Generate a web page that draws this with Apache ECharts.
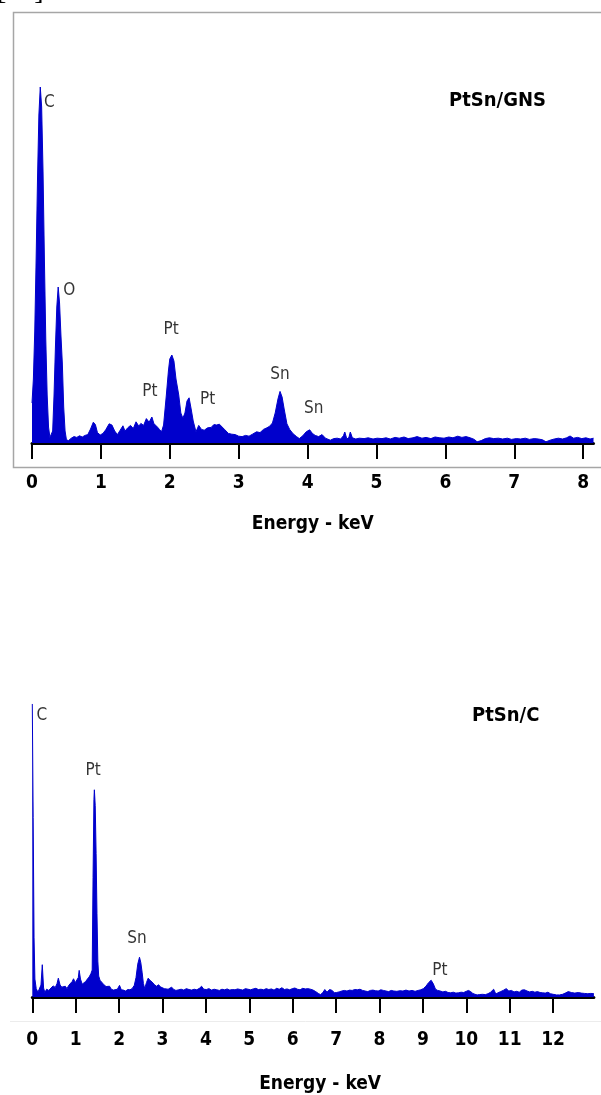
<!DOCTYPE html>
<html lang="en">

<head>
	<meta charset="UTF-8">
	<title>EDS spectra</title>
	<script src="https://cdn.jsdelivr.net/npm/echarts@6/dist/echarts.min.js"></script>
	<style>
		body { margin: 0; background: #fff; }
	</style>
</head>

<body>
	<div id="main" style="width: 601px;height: 1095px;"></div>
</body>

<script>
	// PtSn/GNS spectrum (energy keV, counts in arbitrary units 0-100)
	const gnsEnergy = [
		0.00, 0.02, 0.04, 0.06, 0.08, 0.10, 0.12, 0.14, 0.16, 0.18, 0.20, 0.22, 0.24, 0.26, 0.28,
		0.30, 0.32, 0.34, 0.36, 0.38, 0.40, 0.42, 0.44, 0.46, 0.48, 0.50, 0.53, 0.57, 0.61, 0.65,
		0.69, 0.73, 0.77, 0.81, 0.85, 0.89, 0.92, 0.95, 0.99, 1.03, 1.07, 1.12, 1.16, 1.20, 1.24,
		1.28, 1.32, 1.35, 1.39, 1.43, 1.47, 1.51, 1.55, 1.58, 1.62, 1.66, 1.70, 1.74, 1.77, 1.81,
		1.85, 1.88, 1.91, 1.95, 1.98, 2.00, 2.03, 2.06, 2.09, 2.13, 2.16, 2.19, 2.22, 2.25, 2.28,
		2.31, 2.34, 2.38, 2.42, 2.46, 2.50, 2.55, 2.60, 2.64, 2.68, 2.72, 2.76, 2.80, 2.85, 2.90,
		2.95, 3.00, 3.05, 3.10, 3.15, 3.20, 3.26, 3.31, 3.36, 3.41, 3.45, 3.49, 3.53, 3.57, 3.60,
		3.63, 3.66, 3.70, 3.74, 3.79, 3.84, 3.88, 3.93, 3.98, 4.03, 4.07, 4.11, 4.16, 4.21, 4.26,
		4.33, 4.38, 4.43, 4.48, 4.52, 4.54, 4.57, 4.60, 4.62, 4.65, 4.70, 4.75, 4.82, 4.88, 4.95,
		5.01, 5.08, 5.14, 5.20, 5.27, 5.33, 5.40, 5.46, 5.53, 5.59, 5.66, 5.72, 5.79, 5.85, 5.92,
		5.98, 6.05, 6.11, 6.18, 6.24, 6.30, 6.36, 6.42, 6.46, 6.52, 6.58, 6.64, 6.70, 6.77, 6.83,
		6.90, 6.96, 7.03, 7.09, 7.16, 7.22, 7.29, 7.35, 7.41, 7.46, 7.52, 7.58, 7.64, 7.70, 7.76,
		7.81, 7.86, 7.92, 7.98, 8.04, 8.10, 8.15
	]
	const gnsCounts = [
		10, 16, 28, 46, 66, 82, 89, 84, 68, 46, 26, 12, 4, 1.4, 1.0,
		3, 12, 24, 34, 39, 35, 27, 20, 9, 3, 0.8, 0.6, 1.2, 1.6, 1.4,
		1.8, 1.5, 1.9, 2.1, 3.5, 5.2, 4.6, 2.6, 2.0, 2.4, 3.3, 4.8, 4.5, 3.0, 2.1,
		3.2, 4.3, 3.0, 3.8, 4.4, 3.6, 5.3, 4.2, 4.9, 4.4, 6.1, 5.2, 6.5, 4.8, 4.2,
		3.4, 2.8, 4.5, 12, 18, 21, 22, 20.5, 16, 12, 7.5, 6.2, 7.5, 10.5, 11.3,
		8.5, 5.5, 2.8, 4.4, 3.4, 3.2, 3.8, 3.9, 4.6, 4.5, 4.7, 4.0, 3.3, 2.4, 2.2,
		2.1, 1.7, 1.6, 1.9, 1.7, 2.2, 2.8, 2.6, 3.4, 3.8, 4.2, 5.0, 7.5, 11, 12.9,
		11.5, 8.5, 4.8, 3.4, 2.3, 1.6, 1.1, 1.8, 2.8, 3.3, 2.4, 1.9, 1.6, 2.1, 1.2,
		0.7, 1.1, 1.2, 1.0, 1.8, 2.75, 1.0, 1.4, 2.75, 1.3, 1.0, 1.2, 1.1, 1.3, 1.0,
		1.2, 1.1, 1.3, 1.0, 1.4, 1.2, 1.5, 1.1, 1.3, 1.6, 1.2, 1.4, 1.1, 1.5, 1.3,
		1.2, 1.5, 1.3, 1.7, 1.4, 1.6, 1.3, 0.9, 0.3, 0.6, 1.1, 1.3, 1.1, 1.2, 1.0,
		1.2, 0.9, 1.1, 1.0, 1.2, 0.9, 1.1, 1.0, 0.8, 0.3, 0.7, 1.0, 1.2, 1.0, 1.3,
		1.75, 1.2, 1.4, 1.1, 1.3, 1.0, 1.2
	]

	// PtSn/C spectrum
	const cEnergy = [
		0.00, 0.02, 0.04, 0.06, 0.09, 0.13, 0.17, 0.20, 0.23, 0.26, 0.29, 0.33, 0.38, 0.43, 0.48,
		0.53, 0.57, 0.60, 0.64, 0.68, 0.72, 0.76, 0.80, 0.84, 0.88, 0.92, 0.95, 0.99, 1.03, 1.06,
		1.08, 1.11, 1.15, 1.19, 1.23, 1.27, 1.31, 1.35, 1.38, 1.40, 1.42, 1.43, 1.45, 1.47, 1.49,
		1.51, 1.53, 1.56, 1.60, 1.65, 1.70, 1.74, 1.78, 1.82, 1.87, 1.91, 1.96, 2.01, 2.05, 2.10,
		2.15, 2.20, 2.25, 2.30, 2.35, 2.39, 2.43, 2.47, 2.50, 2.53, 2.56, 2.59, 2.63, 2.67, 2.71,
		2.76, 2.81, 2.86, 2.91, 2.95, 2.99, 3.04, 3.08, 3.13, 3.17, 3.21, 3.26, 3.31, 3.37, 3.43,
		3.49, 3.55, 3.61, 3.67, 3.73, 3.79, 3.85, 3.90, 3.95, 4.01, 4.07, 4.13, 4.19, 4.25, 4.31,
		4.37, 4.43, 4.49, 4.55, 4.61, 4.67, 4.73, 4.79, 4.85, 4.91, 4.97, 5.03, 5.09, 5.15, 5.21,
		5.27, 5.33, 5.39, 5.45, 5.51, 5.57, 5.63, 5.69, 5.75, 5.81, 5.87, 5.93, 5.99, 6.05, 6.11,
		6.17, 6.23, 6.29, 6.35, 6.41, 6.47, 6.53, 6.59, 6.64, 6.69, 6.74, 6.79, 6.85, 6.91, 6.96,
		7.01, 7.07, 7.13, 7.19, 7.25, 7.31, 7.37, 7.43, 7.49, 7.55, 7.61, 7.67, 7.73, 7.79, 7.85,
		7.91, 7.97, 8.03, 8.09, 8.15, 8.21, 8.27, 8.33, 8.40, 8.47, 8.54, 8.61, 8.68, 8.75, 8.82,
		8.89, 8.95, 9.01, 9.07, 9.13, 9.19, 9.24, 9.29, 9.34, 9.40, 9.46, 9.52, 9.58, 9.64, 9.70,
		9.76, 9.82, 9.88, 9.94, 10.00, 10.05, 10.10, 10.15, 10.20, 10.25, 10.30, 10.37, 10.44, 10.50, 10.56,
		10.63, 10.68, 10.73, 10.79, 10.85, 10.92, 10.98, 11.04, 11.10, 11.16, 11.22, 11.28, 11.34, 11.40, 11.46,
		11.52, 11.58, 11.64, 11.70, 11.76, 11.82, 11.88, 11.94, 12.00, 12.08, 12.15, 12.22, 12.28, 12.35, 12.42,
		12.50, 12.58, 12.65, 12.72, 12.80, 12.87, 12.94
	]
	const cCounts = [
		98, 60, 20, 6, 2.8, 1.6, 2.2, 4, 10.8, 3, 1.5, 2.6, 2.2, 3.0, 3.7,
		3.2, 4.5, 6.3, 4.0, 3.3, 3.2, 3.6, 2.8, 3.9, 4.4, 5.2, 6.1, 4.8, 4.2, 6.5,
		8.9, 6.0, 4.3, 4.8, 5.2, 6.0, 6.7, 7.8, 9, 40, 66, 69.3, 64, 48, 28,
		12, 7, 5.6, 5.0, 4.1, 3.5, 3.0, 3.6, 2.6, 2.3, 2.2, 2.6, 3.9, 2.4, 2.3,
		2.0, 2.5, 2.4, 2.8, 3.9, 6.5, 11, 13.3, 11.5, 8.3, 4.5, 2.8, 4.8, 6.3, 5.6,
		5.0, 4.2, 3.6, 4.1, 3.4, 3.9, 2.8, 2.2, 2.6, 3.0, 3.3, 2.5, 2.2, 2.4, 2.6,
		2.3, 2.8, 2.5, 2.3, 2.6, 2.4, 2.9, 3.6, 2.6, 2.5, 2.8, 2.3, 2.6, 2.4, 2.2,
		2.6, 2.4, 2.7, 2.3, 2.5, 2.4, 2.7, 2.5, 2.3, 2.8, 2.6, 2.4, 2.7, 2.9, 2.5,
		2.6, 2.4, 2.8, 2.5, 2.7, 2.3, 2.9, 2.6, 3.1, 2.5, 2.7, 2.4, 2.8, 3.0, 2.6,
		2.4, 2.9, 2.7, 2.8, 2.6, 2.3, 1.8, 1.2, 0.8, 1.4, 2.5, 1.6, 2.5, 2.2, 1.4,
		1.5, 1.7, 2.0, 2.2, 2.0, 2.3, 2.2, 2.5, 2.4, 2.6, 2.2, 2.0, 1.8, 2.2, 2.3,
		2.1, 2.0, 2.4, 2.2, 2.0, 1.8, 2.2, 2.0, 1.9, 2.1, 2.0, 2.3, 2.0, 2.2, 1.9,
		2.2, 2.4, 2.8, 3.6, 4.8, 5.6, 4.4, 2.6, 2.2, 2.0, 1.7, 1.9, 1.5, 1.4, 1.6,
		1.3, 1.4, 1.6, 1.5, 1.9, 2.2, 1.8, 1.2, 0.9, 0.7, 0.8, 0.9, 0.8, 1.1, 1.6,
		2.6, 1.0, 1.4, 1.8, 2.2, 2.8, 2.0, 2.2, 1.7, 1.9, 1.6, 2.3, 2.4, 2.0, 1.7,
		1.9, 1.6, 1.8, 1.5, 1.4, 1.3, 1.6, 1.1, 0.9, 0.7, 0.7, 0.9, 1.3, 1.8, 1.5,
		1.3, 1.5, 1.3, 1.2, 1.1, 1.2, 1.1
	]

	// element labels: [energy, count, text]
	const gnsPeakLabels = [
		[0.25, 85, 'C'], [0.54, 38, 'O'], [2.02, 28.3, 'Pt'], [1.71, 12.8, 'Pt'],
		[2.55, 10.8, 'Pt'], [3.60, 17, 'Sn'], [4.09, 8.5, 'Sn']
	]
	const cPeakLabels = [
		[0.22, 94, 'C'], [1.40, 75.7, 'Pt'], [2.41, 19.7, 'Sn'], [9.39, 8.7, 'Pt']
	]

	const gnsTicks = [0, 1, 2, 3, 4, 5, 6, 7, 8]
	const cTicks = [0, 1, 2, 3, 4, 5, 6, 7, 8, 9, 10, 11, 12]

	const narrow = "'DejaVu Sans Condensed', 'Liberation Sans', sans-serif"
	const blue = '#0000cc'

	let mcharts = echarts.init(document.getElementById('main'))

	function makeXAxis(gridIndex, max, ticks, labelMargin, nameGap, namePad) {
		return {
			gridIndex: gridIndex,
			type: 'value',
			min: 0,
			max: max,
			interval: 1,
			splitLine: { show: false },
			axisLine: { show: true, lineStyle: { color: '#000', width: 3 } },
			axisTick: { show: true, inside: false, length: 16, customValues: ticks, lineStyle: { color: '#000', width: 2 } },
			axisLabel: {
				customValues: ticks, margin: labelMargin, color: '#000',
				fontFamily: narrow, fontWeight: 'bold', fontSize: 19
			},
			name: 'Energy - keV',
			nameLocation: 'middle',
			nameGap: nameGap,
			nameTextStyle: {
				color: '#000', fontFamily: narrow, fontWeight: 'bold', fontSize: 19,
				padding: [0, 0, 0, namePad]
			}
		}
	}

	function labelSeries(idx, labels) {
		return {
			type: 'scatter',
			xAxisIndex: idx,
			yAxisIndex: idx,
			symbolSize: 1,
			itemStyle: { color: 'transparent' },
			data: labels.map(([e, c, t]) => ({ value: [e, c], name: t })),
			label: {
				show: true, position: 'inside', formatter: '{b}',
				color: '#000', fontFamily: narrow, fontSize: 17
			},
			z: 5
		}
	}

	let option = {
		animation: false,
		backgroundColor: '#fff',
		grid: [
			{ left: 32, right: 7.5, top: 43, height: 400 },
			{ left: 32.3, right: 7.1, top: 698, height: 300 }
		],
		xAxis: [
			makeXAxis(0, 8.15, gnsTicks, 31, 72, 0),
			makeXAxis(1, 12.94, cTicks, 34, 78, 14)
		],
		yAxis: [
			{ gridIndex: 0, type: 'value', min: 0, max: 100, show: false },
			{ gridIndex: 1, type: 'value', min: 0, max: 100, show: false }
		],
		series: [
			{
				type: 'line', xAxisIndex: 0, yAxisIndex: 0,
				symbol: 'none', silent: true,
				lineStyle: { color: blue, width: 1 },
				areaStyle: { color: blue, opacity: 1 },
				data: gnsEnergy.map((e, i) => [e, gnsCounts[i]])
			},
			{
				type: 'line', xAxisIndex: 1, yAxisIndex: 1,
				symbol: 'none', silent: true,
				lineStyle: { color: blue, width: 1 },
				areaStyle: { color: blue, opacity: 1 },
				data: cEnergy.map((e, i) => [e, cCounts[i]])
			},
			labelSeries(0, gnsPeakLabels),
			labelSeries(1, cPeakLabels)
		],
		graphic: [
			// grey frame round the upper panel
			{
				type: 'rect', silent: true,
				shape: { x: 13.5, y: 12.5, width: 600, height: 455 },
				style: { fill: 'none', stroke: '#a6a6a6', lineWidth: 1.5 }
			},
			// faint rule under the lower panel
			{
				type: 'line', silent: true,
				shape: { x1: 10, y1: 1021.5, x2: 601, y2: 1021.5 },
				style: { stroke: '#ececec', lineWidth: 1 }
			},
			{
				type: 'text', left: -3, top: -22,
				style: { text: '[20].', font: "28px 'Liberation Serif', serif", fill: '#000' }
			},
			{
				type: 'text', left: 449, top: 91,
				style: { text: 'PtSn/GNS', font: "bold 20px " + narrow, fill: '#000' }
			},
			{
				type: 'text', left: 472, top: 706,
				style: { text: 'PtSn/C', font: "bold 20px " + narrow, fill: '#000' }
			}
		]
	}

	mcharts.setOption(option)
</script>

</html>
